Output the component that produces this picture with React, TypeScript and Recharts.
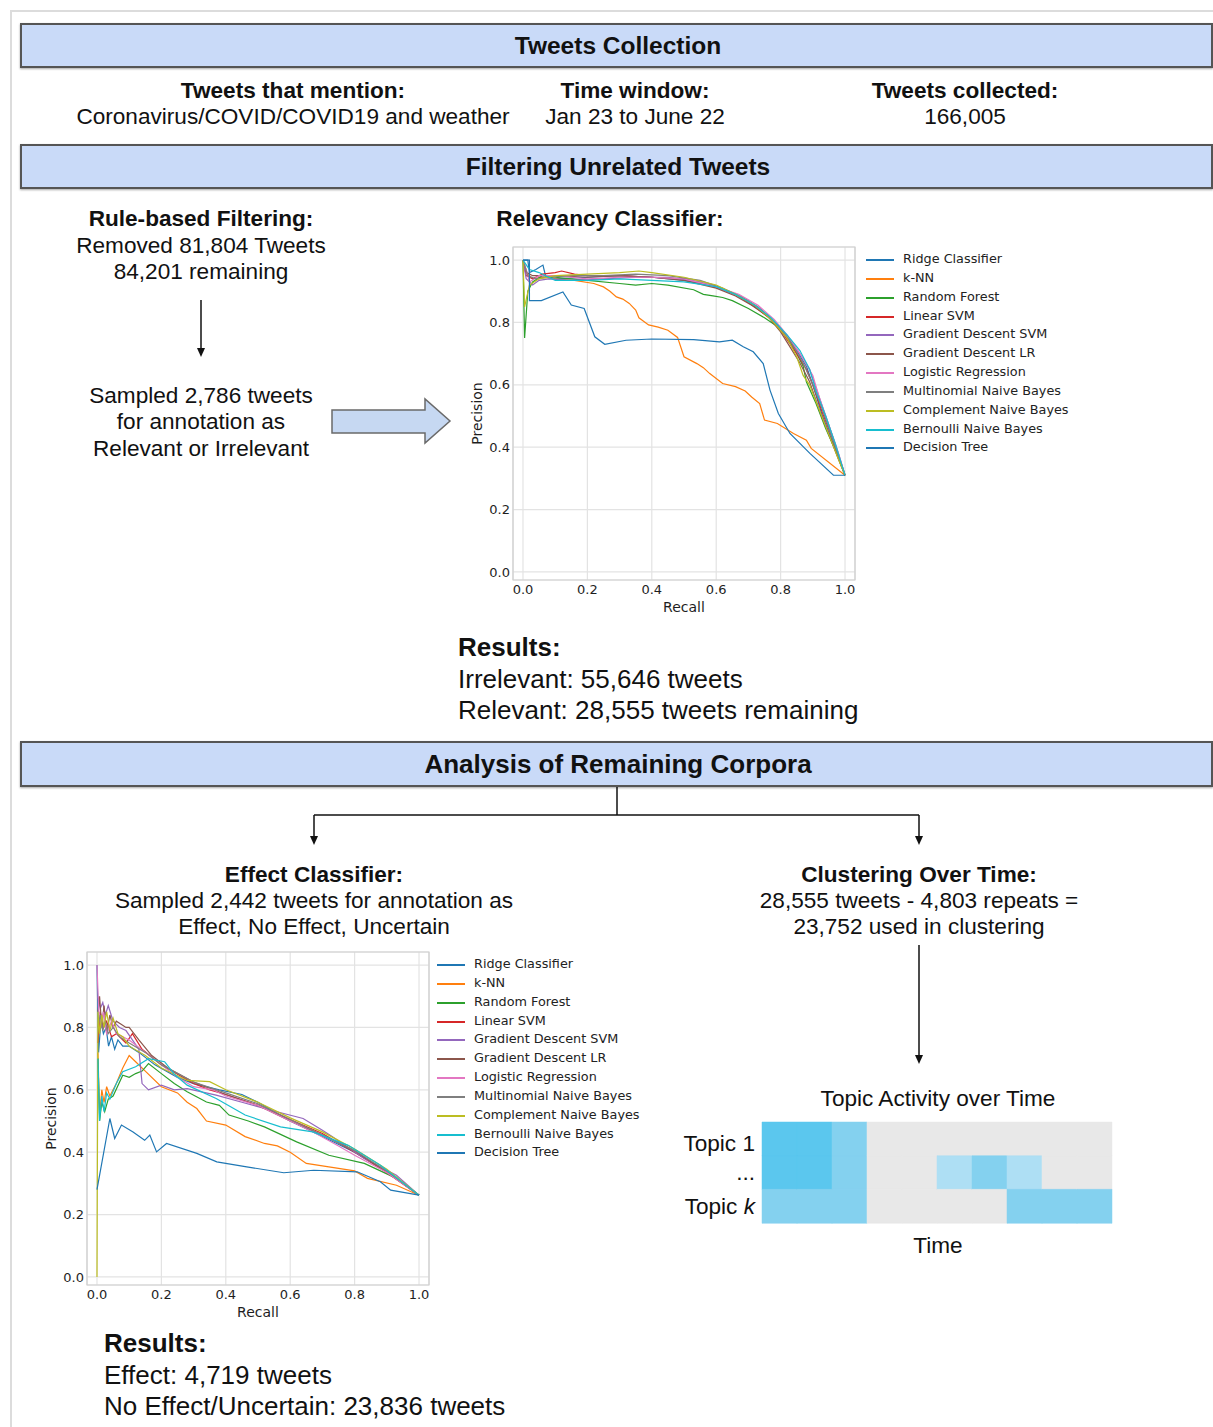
// Tweet pipeline figure: flowchart text + two precision-recall charts + topic heatmap

import React from "react";
import {
  LineChart,
  Line,
  XAxis,
  YAxis,
  CartesianGrid,
  ReferenceArea,
  BarChart,
  Bar,
  Cell,
} from "recharts";

const classifierNames = [
  "Ridge Classifier",
  "k-NN",
  "Random Forest",
  "Linear SVM",
  "Gradient Descent SVM",
  "Gradient Descent LR",
  "Logistic Regression",
  "Multinomial Naive Bayes",
  "Complement Naive Bayes",
  "Bernoulli Naive Bayes",
  "Decision Tree",
];
const classifierColors = [
  "#1f77b4", "#ff7f0e", "#2ca02c", "#d62728", "#9467bd", "#8c564b",
  "#e377c2", "#7f7f7f", "#bcbd22", "#17becf", "#1f77b4",
];

const prTicks = [0, 0.2, 0.4, 0.6, 0.8, 1.0];

// Relevancy classifier curves: [recall, precision]
const relRidge = [[0,1],[0.015,1],[0.02,0.96],[0.04,0.97],[0.062,0.984],[0.07,0.95],[0.1,0.94],[0.2,0.945],[0.3,0.95],[0.4,0.945],[0.5,0.935],[0.6,0.915],[0.65,0.895],[0.7,0.87],[0.75,0.83],[0.8,0.78],[0.85,0.71],[0.88,0.66],[0.9,0.6],[0.93,0.5],[0.96,0.42],[0.98,0.37],[1,0.31]];
const relKnn = [[0,1],[0.01,0.96],[0.03,0.94],[0.06,0.945],[0.1,0.94],[0.16,0.935],[0.22,0.925],[0.25,0.914],[0.27,0.9],[0.29,0.882],[0.31,0.875],[0.33,0.861],[0.35,0.84],[0.36,0.815],[0.39,0.792],[0.42,0.785],[0.45,0.775],[0.48,0.752],[0.5,0.69],[0.54,0.668],[0.56,0.655],[0.58,0.636],[0.62,0.604],[0.66,0.594],[0.69,0.58],[0.71,0.561],[0.735,0.54],[0.75,0.487],[0.79,0.476],[0.84,0.444],[0.88,0.422],[0.895,0.396],[1,0.31]];
const relForest = [[0,1],[0.005,0.75],[0.015,0.9],[0.03,0.93],[0.06,0.95],[0.1,0.945],[0.15,0.94],[0.2,0.935],[0.3,0.925],[0.35,0.92],[0.4,0.925],[0.45,0.92],[0.53,0.905],[0.56,0.89],[0.59,0.885],[0.62,0.88],[0.65,0.87],[0.7,0.845],[0.75,0.815],[0.8,0.78],[0.84,0.72],[0.87,0.66],[0.88,0.61],[0.91,0.54],[0.94,0.46],[0.97,0.39],[1,0.31]];
const relLinSvm = [[0,1],[0.01,0.95],[0.03,0.94],[0.06,0.955],[0.1,0.96],[0.12,0.965],[0.16,0.955],[0.2,0.95],[0.3,0.95],[0.4,0.945],[0.5,0.94],[0.6,0.915],[0.66,0.89],[0.72,0.85],[0.77,0.81],[0.81,0.76],[0.85,0.7],[0.88,0.65],[0.9,0.6],[0.93,0.51],[0.96,0.43],[0.98,0.37],[1,0.31]];
const relGdSvm = [[0,1],[0.01,0.94],[0.03,0.92],[0.05,0.935],[0.08,0.94],[0.15,0.935],[0.25,0.94],[0.35,0.945],[0.45,0.945],[0.55,0.93],[0.62,0.905],[0.68,0.88],[0.73,0.85],[0.78,0.805],[0.82,0.755],[0.86,0.7],[0.89,0.65],[0.91,0.59],[0.94,0.5],[0.97,0.41],[1,0.31]];
const relGdLr = [[0,1],[0.012,0.96],[0.03,0.95],[0.06,0.95],[0.1,0.95],[0.2,0.945],[0.3,0.95],[0.4,0.945],[0.5,0.935],[0.6,0.91],[0.66,0.885],[0.71,0.855],[0.76,0.82],[0.8,0.77],[0.83,0.72],[0.86,0.67],[0.89,0.61],[0.92,0.52],[0.95,0.44],[0.98,0.36],[1,0.31]];
const relLogReg = [[0,1],[0.01,0.97],[0.02,0.93],[0.05,0.95],[0.1,0.95],[0.2,0.94],[0.3,0.945],[0.4,0.945],[0.5,0.94],[0.6,0.915],[0.67,0.89],[0.73,0.855],[0.78,0.81],[0.82,0.76],[0.86,0.7],[0.9,0.63],[0.92,0.56],[0.95,0.47],[0.98,0.38],[1,0.31]];
const relMnb = [[0,1],[0.015,0.95],[0.04,0.94],[0.08,0.945],[0.15,0.95],[0.25,0.95],[0.35,0.955],[0.45,0.95],[0.55,0.935],[0.62,0.91],[0.68,0.88],[0.74,0.84],[0.79,0.79],[0.83,0.74],[0.87,0.67],[0.9,0.6],[0.93,0.52],[0.96,0.43],[0.98,0.37],[1,0.31]];
const relCnb = [[0,1],[0.005,0.85],[0.02,0.92],[0.05,0.94],[0.1,0.95],[0.2,0.955],[0.3,0.96],[0.36,0.965],[0.4,0.96],[0.5,0.945],[0.6,0.92],[0.66,0.89],[0.72,0.855],[0.77,0.81],[0.82,0.75],[0.85,0.69],[0.87,0.63],[0.89,0.6],[0.92,0.52],[0.95,0.44],[0.98,0.36],[1,0.31]];
const relBnb = [[0,1],[0.02,0.97],[0.05,0.96],[0.07,0.95],[0.1,0.935],[0.2,0.935],[0.3,0.94],[0.4,0.935],[0.5,0.93],[0.6,0.915],[0.66,0.89],[0.72,0.855],[0.77,0.815],[0.82,0.76],[0.86,0.71],[0.89,0.65],[0.91,0.58],[0.94,0.5],[0.97,0.41],[1,0.31]];
const relTree = [[0,1],[0.02,1],[0.02,0.87],[0.057,0.87],[0.124,0.898],[0.15,0.856],[0.19,0.845],[0.223,0.754],[0.254,0.73],[0.32,0.743],[0.4,0.747],[0.53,0.745],[0.61,0.738],[0.65,0.743],[0.684,0.722],[0.715,0.706],[0.746,0.668],[0.767,0.583],[0.793,0.508],[0.829,0.444],[0.891,0.38],[0.964,0.31],[1,0.31]];

// Effect classifier curves: [recall, precision]
const effRidge = [[0,1],[0.005,0.72],[0.012,0.82],[0.02,0.78],[0.028,0.8],[0.036,0.74],[0.045,0.77],[0.055,0.73],[0.065,0.76],[0.08,0.74],[0.1,0.74],[0.13,0.72],[0.18,0.68],[0.25,0.64],[0.3,0.62],[0.38,0.6],[0.45,0.585],[0.5,0.56],[0.6,0.5],[0.7,0.45],[0.8,0.4],[0.9,0.34],[1,0.262]];
const effKnn = [[0.003,0.72],[0.008,0.52],[0.015,0.6],[0.022,0.56],[0.03,0.61],[0.04,0.58],[0.06,0.62],[0.08,0.67],[0.1,0.71],[0.12,0.69],[0.15,0.66],[0.2,0.61],[0.25,0.59],[0.28,0.56],[0.31,0.54],[0.34,0.5],[0.4,0.487],[0.46,0.45],[0.52,0.428],[0.56,0.42],[0.6,0.4],[0.65,0.364],[0.72,0.353],[0.8,0.34],[0.84,0.316],[0.93,0.294],[1,0.262]];
const effForest = [[0.003,0.7],[0.008,0.5],[0.015,0.56],[0.024,0.53],[0.035,0.57],[0.05,0.58],[0.08,0.647],[0.1,0.64],[0.12,0.652],[0.14,0.66],[0.16,0.684],[0.2,0.652],[0.24,0.62],[0.28,0.594],[0.34,0.561],[0.38,0.55],[0.41,0.519],[0.47,0.5],[0.52,0.481],[0.62,0.433],[0.72,0.39],[0.83,0.364],[0.93,0.316],[1,0.262]];
const effLinSvm = [[0.003,0.75],[0.01,0.85],[0.02,0.8],[0.03,0.82],[0.045,0.77],[0.06,0.78],[0.09,0.75],[0.11,0.78],[0.14,0.73],[0.2,0.68],[0.25,0.65],[0.3,0.62],[0.35,0.6],[0.4,0.585],[0.5,0.55],[0.6,0.505],[0.7,0.46],[0.8,0.4],[0.9,0.335],[1,0.262]];
const effGdSvm = [[0.003,0.9],[0.01,0.86],[0.018,0.88],[0.026,0.84],[0.035,0.87],[0.05,0.82],[0.07,0.8],[0.09,0.79],[0.13,0.73],[0.14,0.62],[0.16,0.6],[0.2,0.615],[0.24,0.6],[0.28,0.604],[0.37,0.583],[0.45,0.56],[0.52,0.54],[0.64,0.508],[0.7,0.47],[0.73,0.45],[0.83,0.38],[0.93,0.326],[1,0.262]];
const effGdLr = [[0.003,0.85],[0.008,0.9],[0.015,0.8],[0.022,0.87],[0.03,0.78],[0.04,0.84],[0.05,0.8],[0.06,0.82],[0.075,0.81],[0.09,0.8],[0.1,0.8],[0.13,0.76],[0.17,0.71],[0.22,0.67],[0.3,0.625],[0.4,0.585],[0.5,0.55],[0.6,0.5],[0.7,0.455],[0.8,0.405],[0.9,0.335],[1,0.262]];
const effLogReg = [[0,1],[0.005,0.86],[0.012,0.8],[0.02,0.85],[0.03,0.78],[0.045,0.82],[0.06,0.78],[0.08,0.77],[0.1,0.76],[0.15,0.72],[0.2,0.68],[0.25,0.64],[0.3,0.61],[0.36,0.6],[0.4,0.58],[0.5,0.55],[0.6,0.5],[0.68,0.46],[0.75,0.42],[0.8,0.39],[0.9,0.335],[1,0.262]];
const effMnb = [[0.003,0.8],[0.01,0.84],[0.018,0.79],[0.026,0.82],[0.035,0.78],[0.05,0.8],[0.07,0.77],[0.1,0.75],[0.15,0.72],[0.2,0.68],[0.3,0.625],[0.4,0.59],[0.5,0.555],[0.6,0.505],[0.7,0.455],[0.8,0.405],[0.9,0.34],[1,0.262]];
const effCnb = [[0,0],[0.003,0.85],[0.008,0.78],[0.015,0.84],[0.022,0.8],[0.03,0.85],[0.04,0.79],[0.05,0.83],[0.065,0.78],[0.08,0.77],[0.1,0.74],[0.15,0.71],[0.2,0.67],[0.28,0.63],[0.35,0.626],[0.4,0.6],[0.5,0.56],[0.6,0.51],[0.7,0.465],[0.8,0.41],[0.9,0.345],[1,0.262]];
const effBnb = [[0.003,0.7],[0.008,0.5],[0.015,0.58],[0.022,0.53],[0.03,0.59],[0.04,0.57],[0.06,0.62],[0.08,0.658],[0.12,0.674],[0.16,0.7],[0.21,0.69],[0.24,0.65],[0.28,0.615],[0.37,0.572],[0.46,0.519],[0.57,0.481],[0.67,0.465],[0.78,0.422],[0.88,0.358],[1,0.262]];
const effTree = [[0,0.28],[0.04,0.508],[0.055,0.444],[0.076,0.487],[0.112,0.465],[0.148,0.438],[0.164,0.455],[0.185,0.401],[0.216,0.428],[0.31,0.396],[0.372,0.369],[0.465,0.353],[0.58,0.334],[0.673,0.342],[0.808,0.337],[0.88,0.305],[0.912,0.278],[1,0.262]];

const relevancyCurves = [relRidge, relKnn, relForest, relLinSvm, relGdSvm, relGdLr, relLogReg, relMnb, relCnb, relBnb, relTree];
const effectCurves = [effRidge, effKnn, effForest, effLinSvm, effGdSvm, effGdLr, effLogReg, effMnb, effCnb, effBnb, effTree];

// Topic activity heatmap: intensity level per time slot
const topicLabels = ["Topic 1", "...", "Topic k"];
const topicActivity = [
  [3, 3, 2, 0, 0, 0, 0, 0, 0, 0],
  [3, 3, 2, 0, 0, 1, 2, 1, 0, 0],
  [2, 2, 2, 0, 0, 0, 0, 2, 2, 2],
];
const activityColors = ["#e8e8e8", "#aedff4", "#84d1ef", "#5bc7ee"];

const SANS = "'Liberation Sans', Arial, sans-serif";
const MPL = "'DejaVu Sans', sans-serif";

const Txt = ({ x, y, size = 22.6, bold = false, align = "center", children }: any) => {
  const h = Math.round(size * 1.2);
  const style: React.CSSProperties = {
    position: "absolute",
    top: y - h / 2,
    lineHeight: `${h}px`,
    fontSize: size,
    fontWeight: bold ? 700 : 400,
    fontFamily: SANS,
    color: "#111",
    whiteSpace: "nowrap",
  };
  if (align === "center") {
    style.left = x - 400;
    style.width = 800;
    style.textAlign = "center";
  } else {
    style.left = x;
  }
  return <div style={style}>{children}</div>;
};

const HeaderBar = ({ top, height, label, size }: { top: number; height: number; label: string; size: number }) => (
  <div
    style={{
      position: "absolute",
      left: 20,
      top,
      width: 1193,
      height,
      boxSizing: "border-box",
      background: "#c9daf8",
      border: "2px solid #555",
      boxShadow: "0 1px 2px rgba(0,0,0,0.35)",
    }}
  >
    <Txt x={596} y={height / 2 - 2} size={size} bold>
      {label}
    </Txt>
  </div>
);

const Legend = ({ left, top, textLeft }: { left: number; top: number; textLeft: number }) => (
  <div style={{ position: "absolute", left, top, fontFamily: MPL, fontSize: 12.8, color: "#222" }}>
    {classifierNames.map((name, i) => (
      <div key={name} style={{ position: "relative", height: 18.85, lineHeight: "18.85px" }}>
        <div
          style={{
            position: "absolute",
            left: 0,
            top: 9,
            width: 28,
            height: 2,
            background: classifierColors[i],
          }}
        />
        <span style={{ position: "absolute", left: textLeft, whiteSpace: "nowrap" }}>{name}</span>
      </div>
    ))}
  </div>
);

const PRChart = ({ left, top, curves }: { left: number; top: number; curves: number[][][] }) => (
  <div style={{ position: "absolute", left, top }}>
    <LineChart width={400} height={390} margin={{ top: 12, right: 5, bottom: 5, left: 0 }}>
      <CartesianGrid stroke="#e3e3e3" strokeWidth={1.2} />
      <XAxis
        type="number"
        dataKey="r"
        domain={[-0.031, 1.031]}
        ticks={prTicks}
        allowDataOverflow
        tickFormatter={(v: number) => v.toFixed(1)}
        tick={{ fill: "#1e1e1e", fontSize: 13, fontFamily: MPL }}
        tickLine={false}
        axisLine={false}
        tickSize={3}
        tickMargin={2}
        height={40}
        label={{
          content: (p: any) => {
            const vb = p.viewBox;
            return (
              <text x={vb.x + vb.width / 2} y={vb.y + 32} textAnchor="middle" fontSize={14} fontFamily={MPL} fill="#1e1e1e">
                Recall
              </text>
            );
          },
        }}
      />
      <YAxis
        type="number"
        domain={[-0.026, 1.042]}
        ticks={prTicks}
        allowDataOverflow
        tickFormatter={(v: number) => v.toFixed(1)}
        tick={{ fill: "#1e1e1e", fontSize: 13, fontFamily: MPL }}
        tickLine={false}
        axisLine={false}
        tickSize={1}
        tickMargin={2}
        width={53}
        label={{
          content: (p: any) => {
            const vb = p.viewBox;
            const x = vb.x + 17;
            const y = vb.y + vb.height / 2;
            return (
              <text
                x={x}
                y={y}
                transform={`rotate(-90, ${x}, ${y})`}
                textAnchor="middle"
                dominantBaseline="central"
                fontSize={14}
                fontFamily={MPL}
                fill="#1e1e1e"
              >
                Precision
              </text>
            );
          },
        }}
      />
      <ReferenceArea
        x1={-0.031}
        x2={1.031}
        y1={-0.026}
        y2={1.042}
        fill="none"
        stroke="#cfcfcf"
        strokeWidth={1.2}
        ifOverflow="visible"
      />
      {curves.map((c, i) => (
        <Line
          key={classifierNames[i]}
          data={c.map(([r, p]) => ({ r, p }))}
          dataKey="p"
          type="linear"
          stroke={classifierColors[i]}
          strokeWidth={1.2}
          dot={false}
          isAnimationActive={false}
        />
      ))}
    </LineChart>
  </div>
);

const TopicTick = (props: any) => {
  const { x, y, payload } = props;
  const label: string = payload.value;
  const common = { fontSize: 22.6, fontFamily: SANS, fill: "#111" };
  if (label === "Topic k") {
    return (
      <text x={x} y={y} textAnchor="end" dominantBaseline="central" {...common}>
        <tspan>Topic </tspan>
        <tspan fontStyle="italic">k</tspan>
      </text>
    );
  }
  return (
    <text x={x} y={label === "Topic 1" ? y + 5 : y} textAnchor="end" dominantBaseline="central" {...common}>
      {label}
    </text>
  );
};

const heatRows = topicLabels.map((topic, ri) => {
  const row: Record<string, any> = { topic };
  topicActivity[ri].forEach((_, ci) => {
    row[`t${ci}`] = 1;
  });
  return row;
});

const TopicHeatmap = () => (
  <div style={{ position: "absolute", left: 680, top: 1110 }}>
    <BarChart
      layout="vertical"
      width={440}
      height={160}
      data={heatRows}
      margin={{ top: 12, right: 8, bottom: 47, left: 0 }}
      barCategoryGap={0}
    >
      <XAxis
        type="number"
        orientation="top"
        domain={[0, topicActivity[0].length]}
        height={0}
        tick={false}
        tickLine={false}
        axisLine={{ stroke: "#c2c2c2", strokeWidth: 2 }}
      />
      <YAxis
        type="category"
        dataKey="topic"
        width={82}
        tickLine={false}
        axisLine={false}
        tickMargin={1}
        tick={<TopicTick />}
      />
      {topicActivity[0].map((_, ci) => (
        <Bar key={ci} dataKey={`t${ci}`} stackId="slots" isAnimationActive={false}>
          {topicActivity.map((row, ri) => (
            <Cell key={ri} fill={activityColors[row[ci]]} stroke={activityColors[row[ci]]} strokeWidth={0.5} />
          ))}
        </Bar>
      ))}
    </BarChart>
  </div>
);

const DownArrow = ({ x, y1, y2 }: { x: number; y1: number; y2: number }) => (
  <g>
    <line x1={x} y1={y1} x2={x} y2={y2 - 7} stroke="#111" strokeWidth={1.5} />
    <polygon points={`${x - 4},${y2 - 9} ${x + 4},${y2 - 9} ${x},${y2}`} fill="#111" />
  </g>
);

export default function App() {
  return (
    <div
      style={{
        position: "absolute",
        left: 0,
        top: 0,
        width: 1213,
        height: 1427,
        background: "#fff",
        overflow: "hidden",
      }}
    >
      {/* outer frame */}
      <div style={{ position: "absolute", left: 10, top: 10, width: 1210, height: 1420, borderTop: "2px solid #dcdcdc", borderLeft: "2px solid #dcdcdc" }} />

      <svg width={1213} height={1427} style={{ position: "absolute", left: 0, top: 0 }}>
        <DownArrow x={201} y1={300} y2={357} />
        <polygon
          points="332,410 425,410 425,399 450,421 425,443 425,433 332,433"
          fill="#c6d8f2"
          stroke="#6a6a6a"
          strokeWidth={1.5}
        />
        <line x1={617} y1={787} x2={617} y2={815} stroke="#111" strokeWidth={1.5} />
        <line x1={314} y1={815} x2={919} y2={815} stroke="#111" strokeWidth={1.5} />
        <DownArrow x={314} y1={815} y2={845} />
        <DownArrow x={919} y1={815} y2={845} />
        <DownArrow x={919} y1={945} y2={1064} />
      </svg>

      <HeaderBar top={23} height={45} label="Tweets Collection" size={24.5} />
      <Txt x={293} y={90} bold>Tweets that mention:</Txt>
      <Txt x={293} y={116}>Coronavirus/COVID/COVID19 and weather</Txt>
      <Txt x={635} y={90} bold>Time window:</Txt>
      <Txt x={635} y={116}>Jan 23 to June 22</Txt>
      <Txt x={965} y={90} bold>Tweets collected:</Txt>
      <Txt x={965} y={116}>166,005</Txt>

      <HeaderBar top={144} height={45} label="Filtering Unrelated Tweets" size={24.5} />
      <Txt x={201} y={218} bold>Rule-based Filtering:</Txt>
      <Txt x={201} y={245}>Removed 81,804 Tweets</Txt>
      <Txt x={201} y={271}>84,201 remaining</Txt>
      <Txt x={201} y={395}>Sampled 2,786 tweets</Txt>
      <Txt x={201} y={421}>for annotation as</Txt>
      <Txt x={201} y={448}>Relevant or Irrelevant</Txt>

      <Txt x={610} y={218} bold>Relevancy Classifier:</Txt>
      <PRChart left={460} top={235} curves={relevancyCurves} />
      <Legend left={866} top={250} textLeft={37} />

      <Txt x={458} y={647} size={26} bold align="left">Results:</Txt>
      <Txt x={458} y={679} size={26} align="left">Irrelevant: 55,646 tweets</Txt>
      <Txt x={458} y={710} size={26} align="left">Relevant: 28,555 tweets remaining</Txt>

      <HeaderBar top={741} height={46} label="Analysis of Remaining Corpora" size={26} />

      <Txt x={314} y={874} bold>Effect Classifier:</Txt>
      <Txt x={314} y={900}>Sampled 2,442 tweets for annotation as</Txt>
      <Txt x={314} y={926}>Effect, No Effect, Uncertain</Txt>
      <Txt x={919} y={874} bold>Clustering Over Time:</Txt>
      <Txt x={919} y={900}>28,555 tweets - 4,803 repeats =</Txt>
      <Txt x={919} y={926}>23,752 used in clustering</Txt>

      <PRChart left={34} top={940} curves={effectCurves} />
      <Legend left={437} top={955} textLeft={37} />

      <Txt x={938} y={1098}>Topic Activity over Time</Txt>
      <TopicHeatmap />
      <Txt x={938} y={1245}>Time</Txt>

      <Txt x={104} y={1343} size={26} bold align="left">Results:</Txt>
      <Txt x={104} y={1375} size={26} align="left">Effect: 4,719 tweets</Txt>
      <Txt x={104} y={1406} size={26} align="left">No Effect/Uncertain: 23,836 tweets</Txt>
    </div>
  );
}
